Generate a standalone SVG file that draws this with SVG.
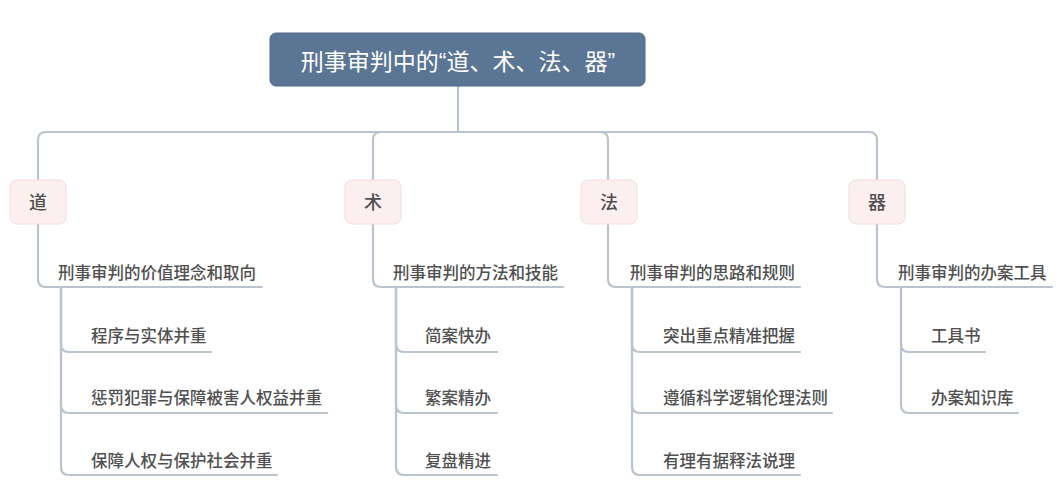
<svg xmlns="http://www.w3.org/2000/svg" width="1060" height="500" viewBox="0 0 1060 500">
<style>
.bg{fill:#ffffff}
.root rect{fill:#5b7595;stroke:#4f6887;stroke-width:1}
.root text{fill:#ffffff;font-family:"Liberation Sans","Noto Sans CJK SC",sans-serif;font-size:23px}
.l1 rect{fill:#fcefef;stroke:#f2dcdc;stroke-width:1}
.l1 text{fill:#505050;font-family:"Noto Sans CJK SC",sans-serif;font-size:18px;font-weight:500;text-anchor:middle}
.t{fill:#505050;font-family:"Noto Sans CJK SC",sans-serif;font-size:16.5px;font-weight:500}
#connectors path{fill:none;stroke:#b9c4ce;stroke-width:2.2;stroke-linecap:round}
</style>
<rect class="bg" x="0" y="0" width="1060" height="500"/>
<g id="connectors">
<path d="M458,86 V132"/>
<path d="M458,132 H46 Q38,132 38,140 V180"/>
<path d="M458,132 H381 Q373,132 373,140 V180"/>
<path d="M458,132 H600 Q608,132 608,140 V180"/>
<path d="M458,132 H869 Q877,132 877,140 V180"/>
<path d="M38,224 V279 Q38,287 46,287 H262"/>
<path d="M61,287 V344 Q61,352 69,352 H211"/>
<path d="M61,287 V405 Q61,413 69,413 H327"/>
<path d="M61,287 V467 Q61,475 69,475 H277"/>
<path d="M373,224 V279 Q373,287 381,287 H563"/>
<path d="M396,287 V344 Q396,352 404,352 H497"/>
<path d="M396,287 V405 Q396,413 404,413 H497"/>
<path d="M396,287 V467 Q396,475 404,475 H497"/>
<path d="M608,224 V279 Q608,287 616,287 H800"/>
<path d="M632,287 V344 Q632,352 640,352 H800"/>
<path d="M632,287 V405 Q632,413 640,413 H832"/>
<path d="M632,287 V467 Q632,475 640,475 H800"/>
<path d="M877,224 V279 Q877,287 885,287 H1052"/>
<path d="M901,287 V344 Q901,352 909,352 H985"/>
<path d="M901,287 V405 Q901,413 909,413 H1018"/>
</g>
<g id="root" class="root">
<rect x="270" y="33" width="375" height="53" rx="6"/>
<text x="458" y="70" text-anchor="middle">刑事审判中的“道、术、法、器”</text>
</g>
<g id="dao" class="l1">
<rect x="10" y="180" width="56" height="44" rx="7"/>
<text x="38" y="209">道</text>
</g>
<g id="shu" class="l1">
<rect x="345" y="180" width="56" height="44" rx="7"/>
<text x="373" y="209">术</text>
</g>
<g id="fa" class="l1">
<rect x="581" y="180" width="56" height="44" rx="7"/>
<text x="609" y="209">法</text>
</g>
<g id="qi" class="l1">
<rect x="849" y="180" width="56" height="44" rx="7"/>
<text x="877" y="209">器</text>
</g>
<g id="dao-sub">
<text class="t" x="58" y="279">刑事审判的价值理念和取向</text>
<text class="t" x="91" y="342">程序与实体并重</text>
<text class="t" x="91" y="404">惩罚犯罪与保障被害人权益并重</text>
<text class="t" x="91" y="467">保障人权与保护社会并重</text>
</g>
<g id="shu-sub">
<text class="t" x="393" y="279">刑事审判的方法和技能</text>
<text class="t" x="425" y="342">简案快办</text>
<text class="t" x="425" y="404">繁案精办</text>
<text class="t" x="425" y="467">复盘精进</text>
</g>
<g id="fa-sub">
<text class="t" x="630" y="279">刑事审判的思路和规则</text>
<text class="t" x="663" y="342">突出重点精准把握</text>
<text class="t" x="663" y="404">遵循科学逻辑伦理法则</text>
<text class="t" x="663" y="467">有理有据释法说理</text>
</g>
<g id="qi-sub">
<text class="t" x="898" y="279">刑事审判的办案工具</text>
<text class="t" x="931" y="342">工具书</text>
<text class="t" x="931" y="404">办案知识库</text>
</g>
</svg>
